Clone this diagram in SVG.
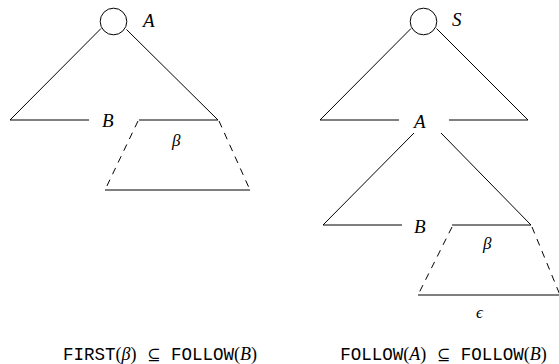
<svg xmlns="http://www.w3.org/2000/svg" width="559" height="364" viewBox="0 0 559 364">
<style>
.ln{stroke:#000;stroke-width:1;fill:none}
.ds{stroke:#000;stroke-width:1;fill:none;stroke-dasharray:7 6}
.m{font-family:"Liberation Serif","DejaVu Serif",serif;font-style:italic;font-size:19px;fill:#000}
.g{font-family:"Liberation Serif","DejaVu Serif",serif;font-style:italic;font-size:17px;fill:#000}
.tt{font-family:"Liberation Mono","DejaVu Sans Mono",monospace;font-size:17.5px;fill:#000}
.r{font-family:"Liberation Serif","DejaVu Serif",serif;font-size:18px;font-style:normal}
.mc{font-family:"Liberation Serif","DejaVu Serif",serif;font-style:italic;font-size:18px}
.sym{font-family:"DejaVu Serif",serif;font-size:16px;font-style:normal}
</style>
<rect width="559" height="364" fill="#fff"/>
<g id="nodeA1"><circle cx="113.5" cy="21.5" r="13.3" class="ln"/><text x="143" y="27" class="m">A</text></g>
<g id="labelB1"><text x="102" y="127" class="m">B</text></g>
<g id="labelBeta1"><text x="172" y="146" class="g">β</text></g>
<g id="nodeS"><circle cx="423.5" cy="21.5" r="13.3" class="ln"/><text x="452" y="26" class="m">S</text></g>
<g id="labelA2"><text x="414" y="128" class="m">A</text></g>
<g id="labelB2"><text x="414" y="233" class="m">B</text></g>
<g id="labelBeta2"><text x="483" y="249" class="g">β</text></g>
<g id="labelEps"><text x="476" y="318" class="g" font-size="13">ϵ</text></g>
<g id="connectors">
<line x1="101" y1="28.5" x2="10" y2="120" class="ln"/>
<line x1="10" y1="120" x2="89" y2="120" class="ln"/>
<line x1="126.5" y1="29.5" x2="218" y2="120" class="ln"/>
<line x1="139" y1="120" x2="218" y2="120" class="ln"/>
<line x1="138" y1="121" x2="105" y2="190" class="ds"/>
<line x1="219" y1="121" x2="250" y2="190" class="ds"/>
<line x1="105" y1="190" x2="250" y2="190" class="ln"/>
<line x1="411" y1="28.5" x2="320" y2="120" class="ln"/>
<line x1="320" y1="120" x2="399" y2="120" class="ln"/>
<line x1="436.5" y1="28.5" x2="528" y2="120" class="ln"/>
<line x1="449" y1="120" x2="528" y2="120" class="ln"/>
<line x1="414" y1="133" x2="323" y2="225" class="ln"/>
<line x1="323" y1="225" x2="402" y2="225" class="ln"/>
<line x1="441" y1="133" x2="531" y2="225" class="ln"/>
<line x1="452" y1="225" x2="531" y2="225" class="ln"/>
<line x1="452" y1="227" x2="418" y2="295" class="ds"/>
<line x1="532" y1="227" x2="560" y2="295" class="ds"/>
<line x1="418" y1="295" x2="559" y2="295" class="ln"/>
</g>
<g id="caption1"><text x="160" y="360" text-anchor="middle" class="tt">FIRST<tspan class="r">(</tspan><tspan class="mc">β</tspan><tspan class="r">)</tspan> <tspan class="sym">⊆</tspan> FOLLOW<tspan class="r">(</tspan><tspan class="mc">B</tspan><tspan class="r">)</tspan></text></g>
<g id="caption2"><text x="443.5" y="360" text-anchor="middle" class="tt">FOLLOW<tspan class="r">(</tspan><tspan class="mc">A</tspan><tspan class="r">)</tspan> <tspan class="sym">⊆</tspan> FOLLOW<tspan class="r">(</tspan><tspan class="mc">B</tspan><tspan class="r">)</tspan></text></g>
</svg>
